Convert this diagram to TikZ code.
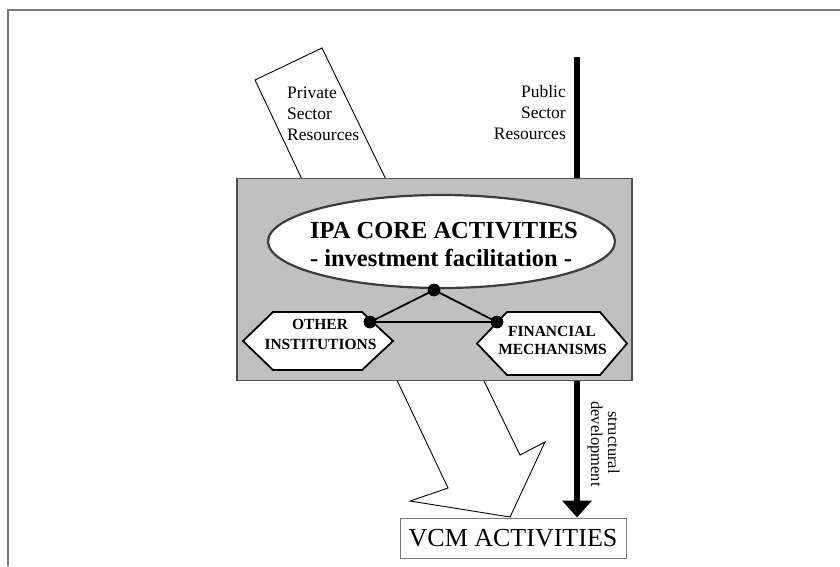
\documentclass[tikz,border=0pt]{standalone}
\usepackage{fontspec}
\setmainfont{Liberation Serif}
\usetikzlibrary{arrows.meta,shapes.geometric}
\definecolor{panelgray}{HTML}{C0C0C0}
\definecolor{edgegray}{HTML}{505050}
\definecolor{framegray}{HTML}{7A7A7A}
\definecolor{ringgray}{HTML}{3C3C3C}
\begin{document}
\begin{tikzpicture}[x=1pt,y=-1pt,
  lbl/.style={inner sep=0pt, font=\fontsize{17.5}{21}\selectfont},
  sidelbl/.style={inner sep=0pt, rotate=-90, font=\fontsize{16.5}{19}\selectfont},
  coretxt/.style={inner sep=0pt, font=\bfseries\fontsize{24.5}{28}\selectfont},
  hextext/.style={inner sep=0pt, font=\bfseries\fontsize{15.5}{18}\selectfont},
  hexbox/.style={draw=black, line width=1.8pt, fill=white, line join=miter},
  corebox/.style={rectangle, draw=edgegray, line width=1.3pt, fill=panelgray, inner sep=0pt},
  ring/.style={ellipse, draw=ringgray, line width=2.2pt, fill=white, inner sep=0pt},
  dot/.style={circle, fill=black, inner sep=0pt, minimum size=12.5pt},
  link/.style={line width=1.8pt, black},
  flowarrow/.style={draw=black, line width=0.9pt, fill=white, line join=miter},
  pubarrow/.style={line width=5.5pt, black, -{Triangle[width=29pt,length=17pt]}},
  resultbox/.style={rectangle, draw=framegray, line width=1pt, fill=white, inner sep=0pt,
    minimum width=226pt, minimum height=40pt}
]
% page and frame
\fill[white] (0,0) rectangle (840,566);
\useasboundingbox (0,0) rectangle (840,566);
\draw[framegray, line width=1.6pt] (840,10) -- (8,10) -- (8,566);

% result box
\node[resultbox] (vcm) at (513,538) {};
\node[inner sep=0pt, font=\fontsize{26}{30}\selectfont, anchor=base] (vcmtxt) at (513,546.5) {VCM ACTIVITIES};

% private sector flow (wide hollow arrow)
\draw[flowarrow] (255,80) -- (322,48) -- (520,455) -- (545,442) -- (510,517)
  -- (410,501) -- (448,488) -- cycle;
\node[lbl, anchor=base west] (prv1) at (287,98) {Private};
\node[lbl, anchor=base west] (prv2) at (287,119) {Sector};
\node[lbl, anchor=base west] (prv3) at (287,140) {Resources};

% public sector flow (thick black arrow)
\coordinate (pubtop) at (577,57);
\draw[pubarrow] (pubtop) -- (pubtop |- vcm.north);
\node[lbl, anchor=base east] (pub1) at (566,97) {Public};
\node[lbl, anchor=base east] (pub2) at (566,118) {Sector};
\node[lbl, anchor=base east] (pub3) at (566,139) {Resources};
\node[sidelbl, anchor=base] (str1) at (608,442.5) {structural};
\node[sidelbl, anchor=base] (str2) at (591,444) {development};

% IPA panel
\node[corebox, minimum width=395pt, minimum height=202pt] (core) at (434.5,279.5) {};
\node[ring, minimum width=347pt, minimum height=93pt] (ipa) at (441.5,241.5) {};
\node[coretxt, anchor=base] (ipa1) at (444,238.5) {IPA CORE ACTIVITIES};
\node[coretxt, anchor=base] (ipa2) at (441,266.5) {- investment facilitation -};

% partner hexagons
\draw[hexbox] (243,341) -- (273,312) -- (362,312) -- (393,341) -- (362,370) -- (273,370) -- cycle;
\node[hextext, anchor=base] (oth1) at (320,329.5) {OTHER};
\node[hextext, anchor=base] (oth2) at (320.5,349) {INSTITUTIONS};
\draw[hexbox] (477,343.5) -- (507,312) -- (600,312) -- (627,343.5) -- (600,375) -- (507,375) -- cycle;
\node[hextext, anchor=base] (fin1) at (552,336) {FINANCIAL};
\node[hextext, anchor=base] (fin2) at (552.5,354.5) {MECHANISMS};

% linkage triangle
\node[dot] (dtop) at (434,290) {};
\node[dot] (dleft) at (370,322) {};
\node[dot] (dright) at (497,322) {};
\draw[link] (dtop.center) -- (dleft.center) -- (dright.center) -- cycle;
\node[dot] at (dtop) {};
\node[dot] at (dleft) {};
\node[dot] at (dright) {};
\end{tikzpicture}
\end{document}
